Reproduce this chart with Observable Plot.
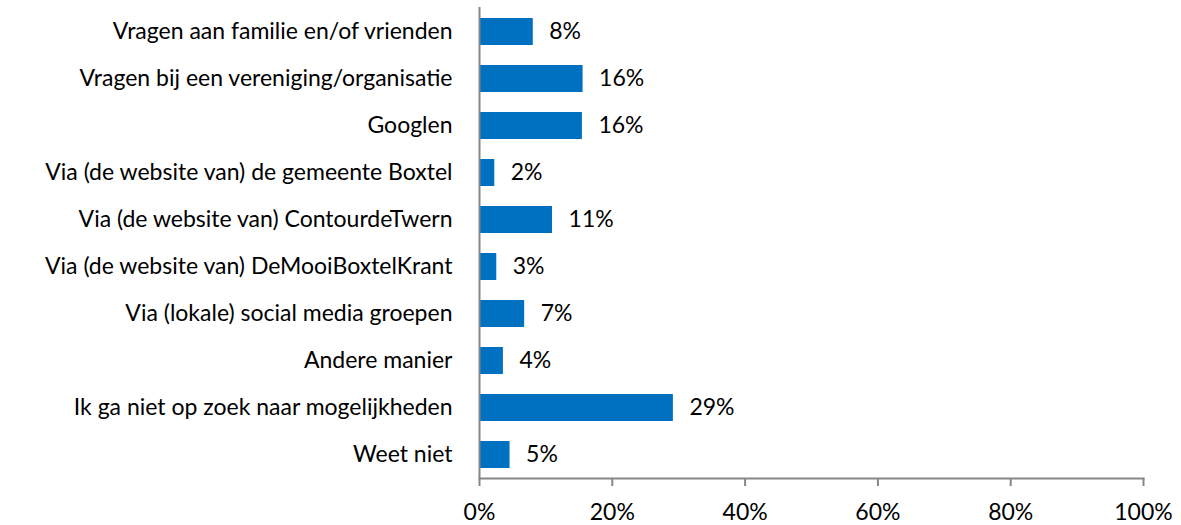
<!DOCTYPE html>
<html>
<head>
<meta charset="utf-8">
<script src="https://cdn.jsdelivr.net/npm/d3@7"></script>
<script src="https://cdn.jsdelivr.net/npm/@observablehq/plot@0.6"></script>
<style>
  html, body { margin: 0; padding: 0; background: #fff; }
</style>
</head>
<body>
<div id="chart"></div>
<script>
const categories = [
  "Vragen aan familie en/of vrienden",
  "Vragen bij een vereniging/organisatie",
  "Googlen",
  "Via (de website van) de gemeente Boxtel",
  "Via (de website van) ContourdeTwern",
  "Via (de website van) DeMooiBoxtelKrant",
  "Via (lokale) social media groepen",
  "Andere manier",
  "Ik ga niet op zoek naar mogelijkheden",
  "Weet niet"
];
const values = [8.1, 15.6, 15.5, 2.3, 11.0, 2.6, 6.8, 3.6, 29.2, 4.6];
const valueLabels = ["8%", "16%", "16%", "2%", "11%", "3%", "7%", "4%", "29%", "5%"];
const xTicks = [0, 20, 40, 60, 80, 100];

const data = categories.map((c, i) => ({category: c, value: values[i], label: valueLabels[i]}));

const axisColor = "#868686";
const fs = 23;
const chart = Plot.plot({
  width: 1181,
  height: 525,
  marginLeft: 479,
  marginRight: 38,
  marginTop: 7,
  marginBottom: 47,
  style: {fontFamily: "Lato, sans-serif", fontSize: fs + "px", color: "#000", background: "#fff"},
  x: {domain: [0, 100], label: null},
  y: {domain: categories, paddingInner: 0.435, paddingOuter: 0.225, label: null},
  marks: [
    Plot.barX(data, {y: "category", x: "value", fill: "#0070C0"}),
    Plot.text(data, {y: "category", x: "value", text: "label", dx: 16, textAnchor: "start", fill: "#000", fontSize: fs}),
    Plot.ruleX([0], {stroke: axisColor, strokeWidth: 2}),
    Plot.frame({anchor: "bottom", stroke: axisColor, strokeWidth: 2}),
    Plot.axisX({ticks: xTicks, tickSize: 8, tickPadding: 17, tickFormat: d => d + "%", stroke: axisColor, strokeWidth: 2, fill: "#000", fontSize: fs, label: null}),
    Plot.axisY({tickSize: 0, tickPadding: 27, fill: "#000", fontSize: fs, label: null})
  ]
});
document.getElementById("chart").append(chart);
</script>
</body>
</html>
